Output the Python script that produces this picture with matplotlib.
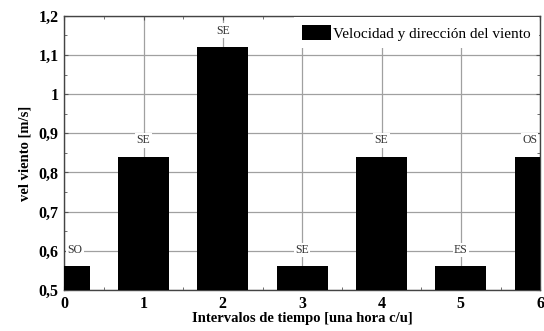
import matplotlib
matplotlib.use("Agg")
import matplotlib.pyplot as plt
from matplotlib.ticker import MultipleLocator, FuncFormatter

# data
intervals = [0, 1, 2, 3, 4, 5, 6]
speeds = [0.56, 0.84, 1.12, 0.56, 0.84, 0.56, 0.84]
directions = ["SO", "SE", "SE", "SE", "SE", "ES", "OS"]

plt.rcParams["font.family"] = ["Liberation Serif", "DejaVu Serif"]

fig = plt.figure(figsize=(5.44, 3.31), dpi=100)
ax = fig.add_axes([0.118, 0.124, 0.875, 0.828])

ax.grid(True, which="major", color="#a0a0a0", linewidth=0.9)
ax.set_axisbelow(True)
ax.bar(intervals, speeds, width=0.64, color="black",
       label="Velocidad y dirección del viento", zorder=3)

# direction tags above each bar; the end ones are pulled inside the frame
for x, v, d in zip(intervals, speeds, directions):
    ha = "center"
    if x == intervals[0]:
        ha, x = "left", x + 0.04
    elif x == intervals[-1]:
        ha, x = "right", x - 0.04
    ax.text(x, v + 0.042, d, ha=ha, va="center", fontsize=8.5,
            color="#333333", zorder=4,
            bbox=dict(facecolor="white", edgecolor="none", pad=1))

ax.set_xlim(0, 6)
ax.set_ylim(0.5, 1.2)
ax.xaxis.set_major_locator(MultipleLocator(1))
ax.xaxis.set_minor_locator(MultipleLocator(0.5))
ax.yaxis.set_major_locator(MultipleLocator(0.1))
ax.yaxis.set_minor_locator(MultipleLocator(0.05))
ax.yaxis.set_major_formatter(FuncFormatter(
    lambda v, _: f"{v:.1f}".replace(".", ",").replace(",0", "")))
ax.tick_params(which="both", direction="in", top=True, right=True,
               color="#555555")
ax.tick_params(which="major", length=3, labelsize=11.5, pad=4)
ax.tick_params(which="minor", length=2.5)
for lab in ax.get_xticklabels() + ax.get_yticklabels():
    lab.set_fontweight("bold")

ax.set_xlabel("Intervalos de tiempo [una hora c/u]", fontsize=10.5,
              fontweight="bold", labelpad=0)
ax.set_ylabel("vel viento [m/s]", fontsize=10.5, fontweight="bold",
              labelpad=5)

leg = ax.legend(loc="upper right", fontsize=11, frameon=True,
                fancybox=False, handlelength=1.9, handleheight=1.1,
                handletextpad=0.15, borderaxespad=0.1, borderpad=0.5)
leg.get_frame().set_edgecolor("none")
leg.get_frame().set_alpha(1)
leg.set_zorder(5)

for s in ax.spines.values():
    s.set_linewidth(1.0)
    s.set_color("#444444")

fig.savefig("out.png", dpi=100)
